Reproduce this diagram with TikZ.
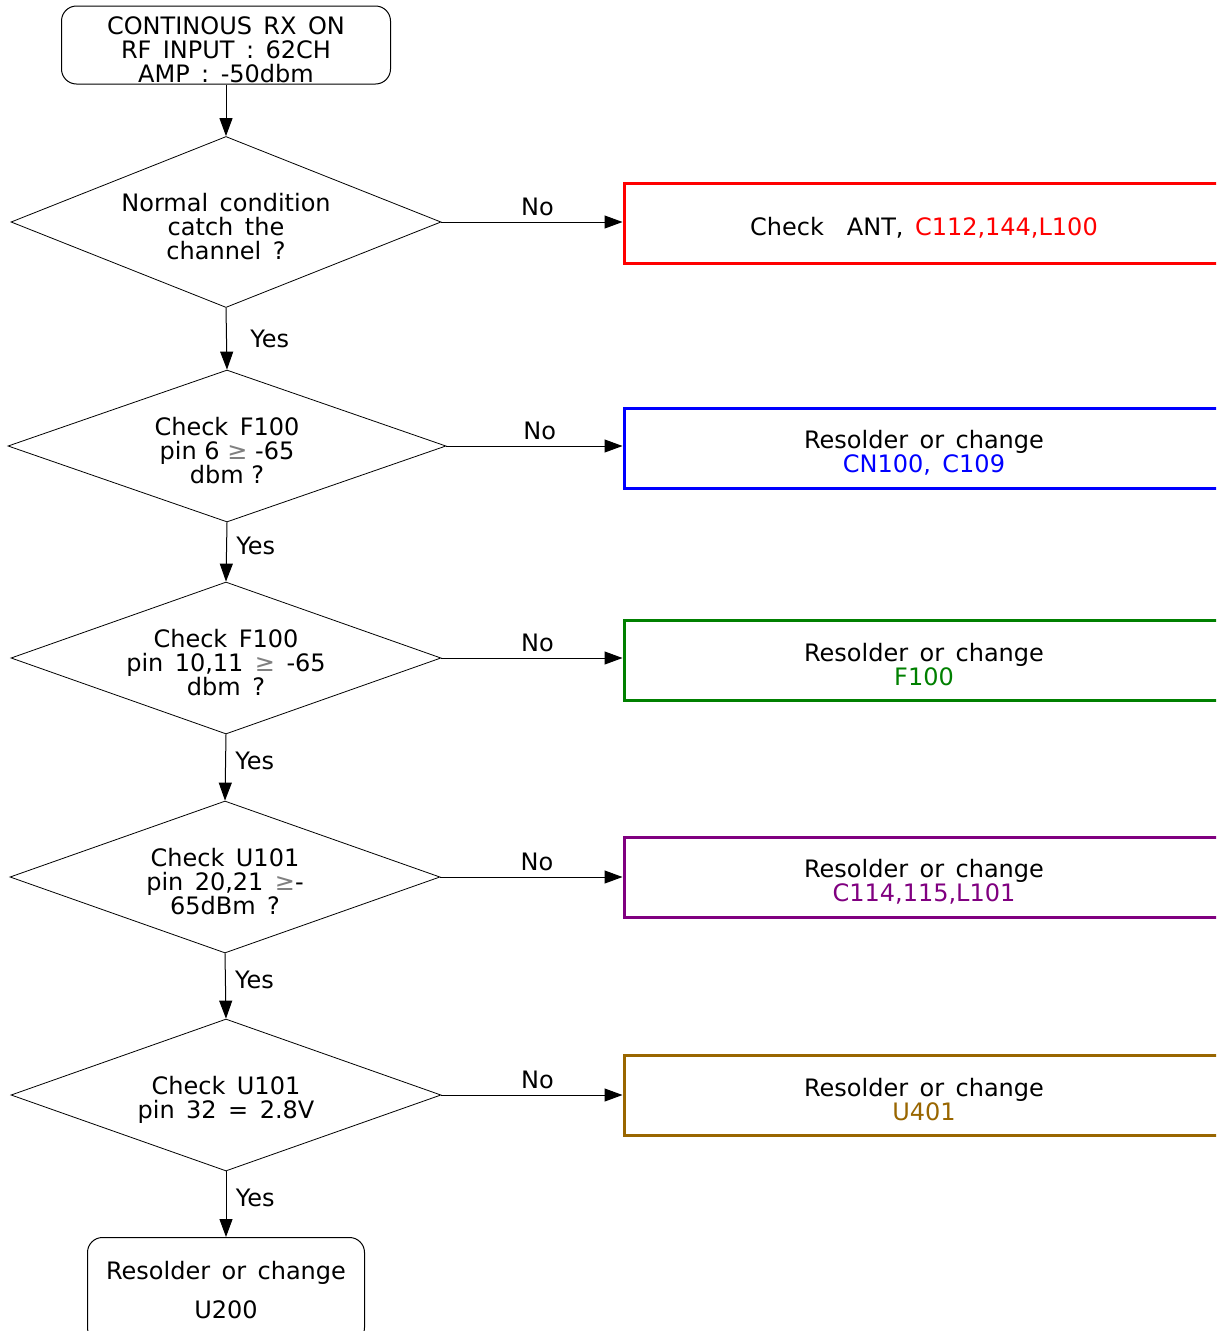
\documentclass[tikz,border=0pt]{standalone}
\usepackage{fontspec}
\setmainfont[WordSpace=1.5]{DejaVu Sans}
\newfontfamily\tightfont{DejaVu Sans}
\usetikzlibrary{positioning,arrows.meta,shapes.geometric}
\definecolor{chkred}{HTML}{FF0000}
\definecolor{chkblue}{HTML}{0000FF}
\definecolor{chkgreen}{HTML}{008000}
\definecolor{chkpurple}{HTML}{800080}
\definecolor{chkbrown}{HTML}{996600}
\newcommand{\lowline}{\rule{0pt}{27pt}}

\begin{document}
\begin{tikzpicture}[x=1pt, y=-1pt,
    every node/.style={font=\fontsize{24}{24}\selectfont},
    startbox/.style={draw, rounded corners=15pt, line width=1pt, minimum width=329pt, minimum height=78pt, align=center, inner sep=0pt},
    decision/.style={draw, diamond, aspect=2.8, line width=0.8pt, minimum width=430pt, minimum height=152pt, align=center, inner sep=0pt},
    fixbox/.style={draw, line width=3pt, minimum width=600pt, minimum height=80pt, align=center},
    flow/.style={-{Triangle[length=18pt,width=13pt]}, line width=1pt}
]
    \useasboundingbox (0,0) rectangle (1216,1331);
    \clip (0,0) rectangle (1216,1331);
    \fill[white] (0,0) rectangle (1216,1331);

    % main column
    \node[startbox] (start) at (226,45) {\lowline CONTINOUS RX ON\\RF INPUT : 62CH\\AMP : -50dbm};
    \node[decision, minimum height=171pt] (q1) at (226,222) {\lowline Normal condition\\catch the\\channel ?};
    \node[decision, minimum width=438pt] (q2) at (227,446) {\lowline Check F100\\{\tightfont pin 6 \textcolor{gray}{≥} -65}\\{\tightfont dbm ?}};
    \node[decision] (q3) at (226,658) {\lowline Check F100\\pin 10,11 \textcolor{gray}{≥} -65\\dbm ?};
    \node[decision] (q4) at (225,877) {\lowline Check U101\\pin 20,21 \textcolor{gray}{≥}-\\65dBm ?};
    \node[decision] (q5) at (226,1095) {\lowline Check U101\\pin 32 = 2.8V};
    \node[draw, rounded corners=15pt, line width=1pt, minimum width=277pt, minimum height=105pt, anchor=north, align=center, font=\fontsize{24}{39}\selectfont] (u200) at (226,1237) {Resolder or change\\U200};

    % repair boxes
    \node[fixbox, draw=chkred] (ant) at (924,223) {\lowline Check \ ANT, \textcolor{chkred}{C112,144,L100}};
    \node[fixbox, draw=chkblue] (cn100) at (924,448.5) {\lowline Resolder or change\\\textcolor{chkblue}{CN100, C109}};
    \node[fixbox, draw=chkgreen] (f100) at (924,660.5) {\lowline Resolder or change\\\textcolor{chkgreen}{F100}};
    \node[fixbox, draw=chkpurple] (c114) at (924,877.5) {\lowline Resolder or change\\\textcolor{chkpurple}{C114,115,L101}};
    \node[fixbox, draw=chkbrown] (u401) at (924,1095.5) {\lowline Resolder or change\\\textcolor{chkbrown}{U401}};

    % connectors
    \draw[flow] (start.south) -- (q1.north);
    \draw[flow] (q1.south) -- (q2.north) node[pos=0.5, right=20pt] {Yes};
    \draw[flow] (q2.south) -- (q3.north) node[pos=0.4, right=6pt] {Yes};
    \draw[flow] (q3.south) -- (q4.north) node[pos=0.4, right=6pt] {Yes};
    \draw[flow] (q4.south) -- (q5.north) node[pos=0.4, right=6pt] {Yes};
    \draw[flow] (q5.south) -- (u200.north) node[pos=0.4, right=6pt] {Yes};

    \draw[flow] (q1.east) -- (q1.east -| ant.west) node[pos=0.53, above=2pt] {No};
    \draw[flow] (q2.east) -- (q2.east -| cn100.west) node[pos=0.53, above=2pt] {No};
    \draw[flow] (q3.east) -- (q3.east -| f100.west) node[pos=0.53, above=2pt] {No};
    \draw[flow] (q4.east) -- (q4.east -| c114.west) node[pos=0.53, above=2pt] {No};
    \draw[flow] (q5.east) -- (q5.east -| u401.west) node[pos=0.53, above=2pt] {No};
\end{tikzpicture}
\end{document}
